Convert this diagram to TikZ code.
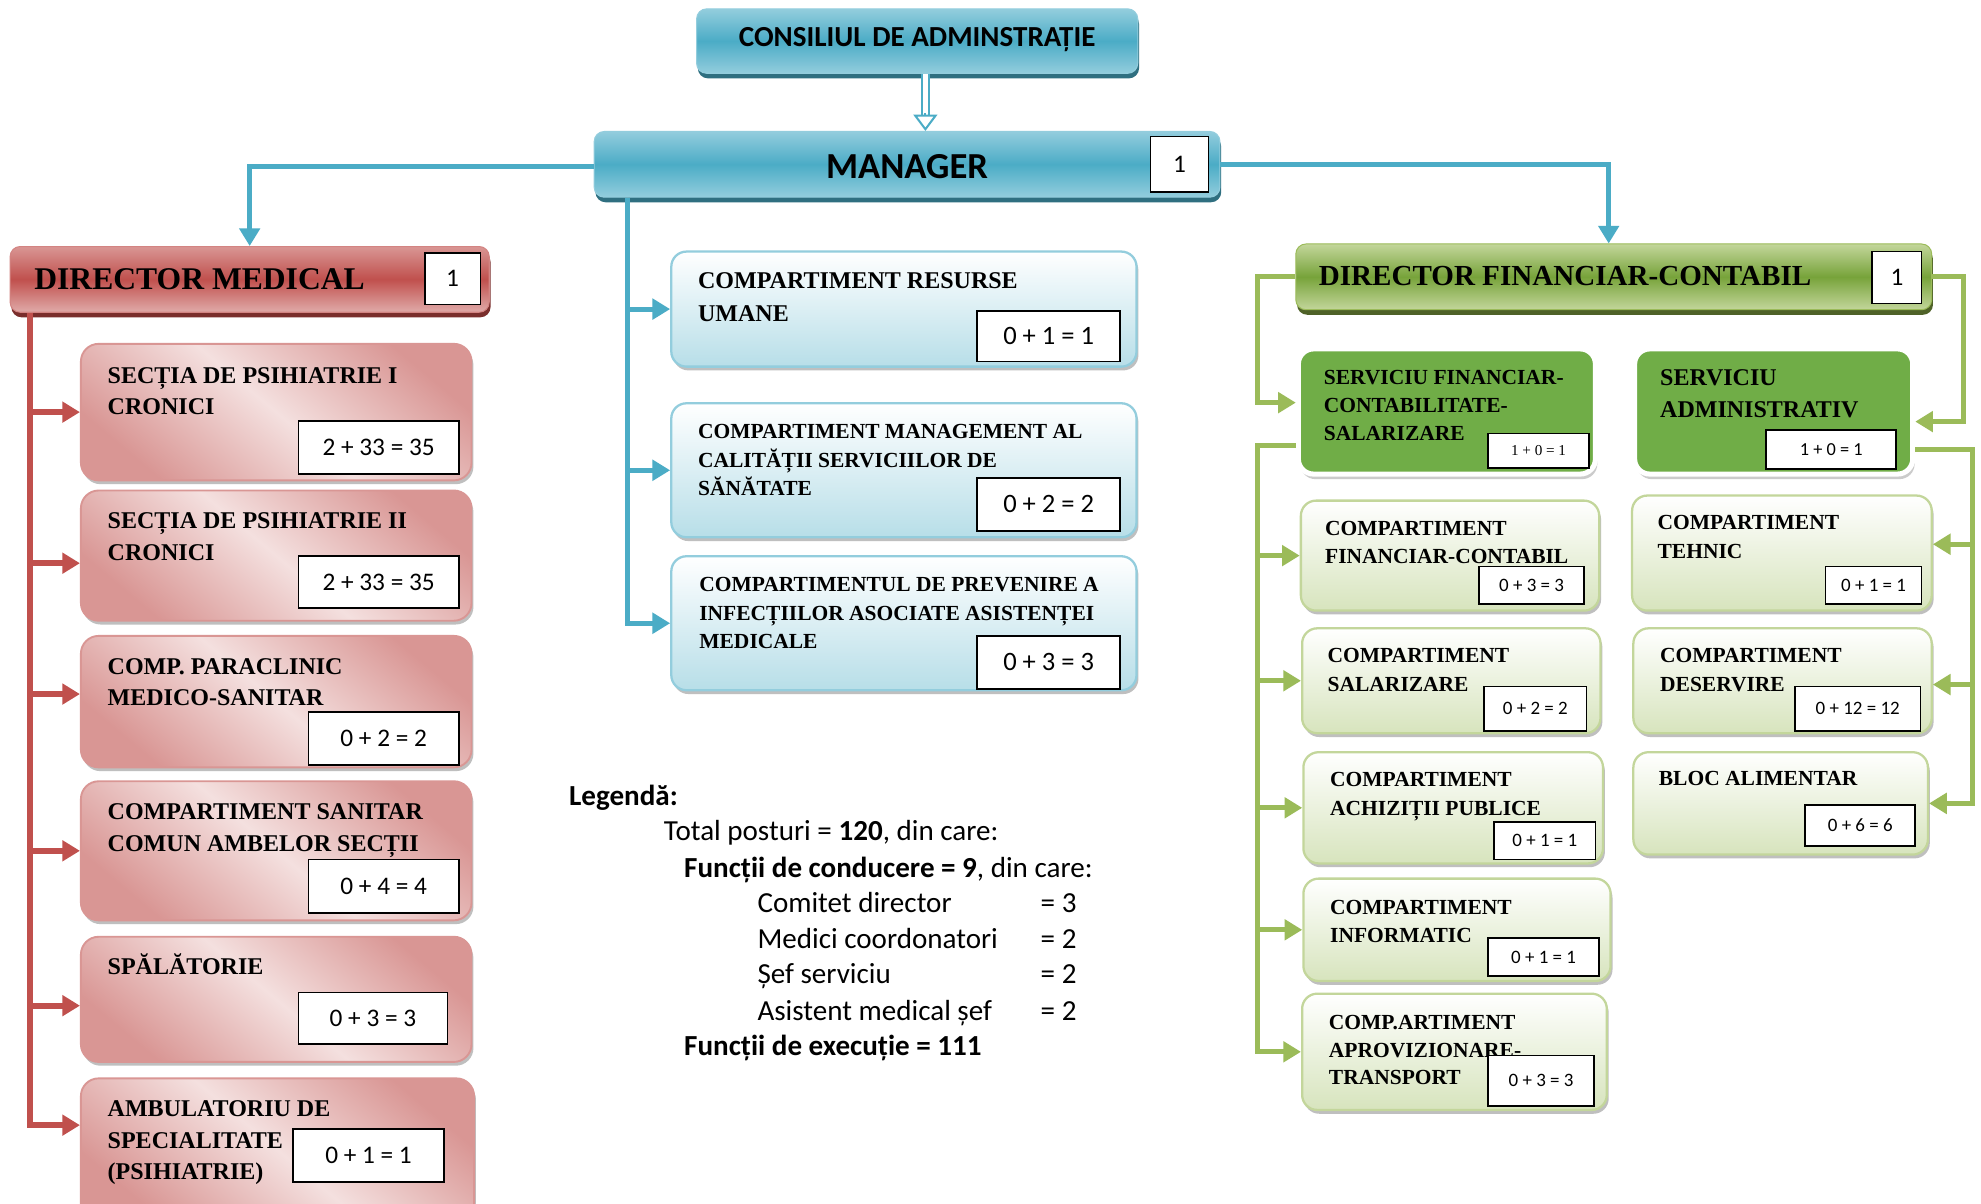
\documentclass[tikz,border=0pt]{standalone}
\usepackage{fontspec}
\setmainfont{Liberation Serif}
\newfontfamily\calib{Carlito}
\usetikzlibrary{arrows.meta,fit,shadows}
\definecolor{cBlue}{HTML}{4BACC6}
\definecolor{cBlueL}{HTML}{93CDDD}
\definecolor{cBlueD}{HTML}{2F6F80}
\definecolor{cBlueB}{HTML}{B7DEE8}
\definecolor{cRed}{HTML}{C0504D}
\definecolor{cRedL}{HTML}{D99694}
\definecolor{cRedXL}{HTML}{F4E0DF}
\definecolor{cRedD}{HTML}{7A2E2C}
\definecolor{cGrn}{HTML}{9BBB59}
\definecolor{cGrnL}{HTML}{C3D69B}
\definecolor{cGrnXL}{HTML}{D7E4BD}
\definecolor{cGrnD}{HTML}{4F6228}
\definecolor{cGrnM}{HTML}{77A33A}
\definecolor{cGrnBox}{HTML}{70AD47}
% number box: name, font style, corners, text
\newcommand\nbx[4]{\node[numbox, fit={#3}] (#1) {};
  \node[#2, inner sep=0pt] (#1-t) at (#1.center) {#4};}
\begin{document}
\begin{tikzpicture}[x=1pt,y=-1pt,
  sh/.style={drop shadow={shadow xshift=1.5pt, shadow yshift=-3pt, fill=black!45, opacity=0.55}},
  bluehdr/.style={rounded corners=8pt, inner sep=0pt, draw=cBlueL, line width=0.8pt,
     top color=cBlueL, bottom color=cBlueL, middle color=cBlue,
     drop shadow={shadow xshift=1pt, shadow yshift=-4pt, fill=cBlueD, opacity=1}},
  redhdr/.style={rounded corners=8pt, inner sep=0pt, draw=cRed!70!white, line width=0.8pt,
     top color=cRedL, bottom color=cRedL!80!white, middle color=cRed,
     drop shadow={shadow xshift=1pt, shadow yshift=-4pt, fill=cRedD, opacity=1}},
  grnhdr/.style={rounded corners=8pt, inner sep=0pt, draw=cGrn, line width=0.8pt,
     top color=cGrnL, bottom color=cGrnL, middle color=cGrnM,
     drop shadow={shadow xshift=1pt, shadow yshift=-4pt, fill=cGrnD, opacity=1}},
  bluebox/.style={rounded corners=12pt, inner sep=0pt, draw=cBlueL, line width=1.8pt,
     top color=white, bottom color=cBlueB, sh},
  redbox/.style={rounded corners=14pt, inner sep=0pt, draw=cRedL, line width=1.5pt,
     top color=cRedL, bottom color=cRedL, middle color=cRedXL, shading angle=-40, sh},
  grnbox/.style={rounded corners=12pt, inner sep=0pt, draw=cGrnL, line width=1.8pt,
     top color=white, bottom color=cGrnXL, sh},
  grndk/.style={rounded corners=12pt, inner sep=0pt, draw=white, line width=4pt,
     fill=cGrnBox, drop shadow={shadow xshift=1.5pt, shadow yshift=-4pt, fill=black!40, opacity=0.5}},
  numbox/.style={draw=black, line width=1.3pt, fill=white, inner sep=0pt},
  nf20/.style={font=\calib\fontsize{20}{24}\selectfont},
  nf21/.style={font=\calib\fontsize{21}{24}\selectfont},
  nf15/.style={font=\calib\fontsize{15}{18}\selectfont},
  nf14/.style={font=\calib\fontsize{14.5}{17}\selectfont},
  nfT/.style={font=\fontsize{12}{14}\selectfont},
  txt/.style={anchor=north west, inner sep=0pt, align=left},
  t19/.style={txt, font=\bfseries\fontsize{19}{25}\selectfont},
  t17/.style={txt, font=\bfseries\fontsize{17}{22.5}\selectfont},
  leg/.style={anchor=base west, inner sep=0pt, font=\calib\fontsize{23}{28}\selectfont},
  bline/.style={draw=cBlue, line width=4pt},
  barr/.style={bline, -{Triangle[length=14pt,width=16pt]}},
  rarr/.style={draw=cRed, line width=4.5pt, -{Triangle[length=14pt,width=16pt]}},
  garr/.style={draw=cGrn, line width=4pt, -{Triangle[length=14pt,width=16pt]}}
]
\fill[white] (0,0) rectangle (1567,951.6);
\useasboundingbox (0,0) rectangle (1567,951.6);

% ---- top ----
\node[bluehdr, fit={(551,7)(900,58)}] (cons) {};
\node[inner sep=0pt, font=\calib\bfseries\fontsize{23}{26}\selectfont] (cons-t) at ([yshift=1pt]cons.center) {CONSILIUL DE ADMINSTRAȚIE};
\node[bluehdr, fit={(470,104)(965,156)}] (mgr) {};
\node[inner sep=0pt, font=\calib\bfseries\fontsize{29}{32}\selectfont] (mgr-t) at ([yshift=-2pt]mgr.center) {MANAGER};
\nbx{mgr1}{nf20}{(910,108)(956,152)}{1}

\coordinate (dA) at (mgr.north -| 732,0);
\draw[cBlue, line width=1.8pt, double=white, double distance=3.5pt, shorten >=11pt] (cons.south -| 732,0) -- (dA);
\draw[cBlue, line width=1.6pt, -{Triangle[open, fill=white, length=13pt, width=19pt]}] ([yshift=14pt]dA) -- (dA);

% ---- directors ----
\node[redhdr, fit={(8,195)(387,247)}] (dm) {};
\node[anchor=west, inner sep=0pt, font=\bfseries\fontsize{25}{30}\selectfont] (dmt) at (27,221) {DIRECTOR MEDICAL};
\nbx{dm1}{nf20}{(336,200)(380,241)}{1}

\node[grnhdr, fit={(1025,193)(1528,245)}] (dfc) {};
\node[anchor=west, inner sep=0pt, font=\bfseries\fontsize{23}{28}\selectfont] (dfct) at (1043,218) {DIRECTOR FINANCIAR-CONTABIL};
\nbx{dfc1}{nf20}{(1481,199)(1520,240)}{1}

\draw[barr] (mgr.west |- 0,132) -| (dm.north);
\draw[barr] (mgr.east |- 0,130) -| ([xshift=-4pt]dfc.north);

% ---- blue column ----
\node[bluebox, fit={(531,199)(899,290)}] (b1) {};
\node[t19, font=\bfseries\fontsize{19}{26}\selectfont] (b1t) at (552,209) {\rule{0pt}{1em}COMPARTIMENT RESURSE\\UMANE};
\nbx{b1n}{nf21}{(773,246)(886,286)}{0 + 1 = 1}

\node[bluebox, fit={(531,319)(899,425)}] (b2) {};
\node[t17] (b2t) at (552,330) {\rule{0pt}{1em}COMPARTIMENT MANAGEMENT AL\\CALITĂȚII SERVICIILOR DE\\SĂNĂTATE};
\nbx{b2n}{nf21}{(773,378)(886,420)}{0 + 2 = 2}

\node[bluebox, fit={(531,440)(899,546)}] (b3) {};
\node[t17] (b3t) at (553,451) {\rule{0pt}{1em}COMPARTIMENTUL DE PREVENIRE A\\INFECȚIILOR ASOCIATE ASISTENȚEI\\MEDICALE};
\nbx{b3n}{nf21}{(773,503)(886,545)}{0 + 3 = 3}

\draw[barr] (mgr.south -| 496,0) |- (b3.west);
\draw[barr] (b1.west -| 496,0) -- (b1.west);
\draw[barr] (b2.west -| 496,0) -- (b2.west);

% ---- red column ----
\node[redbox, fit={(64,272)(373,380)}] (r1) {};
\node[t19] (r1t) at (85,284) {\rule{0pt}{1em}SECȚIA DE PSIHIATRIE I\\CRONICI};
\nbx{r1n}{nf20}{(236,333)(363,375)}{2 + 33 = 35}

\node[redbox, fit={(64,388)(373,491)}] (r2) {};
\node[t19] (r2t) at (85,399) {\rule{0pt}{1em}SECȚIA DE PSIHIATRIE II\\CRONICI};
\nbx{r2n}{nf20}{(236,440)(363,481)}{2 + 33 = 35}

\node[redbox, fit={(64,503)(373,607)}] (r3) {};
\node[t19] (r3t) at (85,514) {\rule{0pt}{1em}COMP. PARACLINIC\\MEDICO-SANITAR};
\nbx{r3n}{nf20}{(244,563)(363,605)}{0 + 2 = 2}

\node[redbox, fit={(64,618)(373,728)}] (r4) {};
\node[t19] (r4t) at (85,629) {\rule{0pt}{1em}COMPARTIMENT SANITAR\\COMUN AMBELOR SECȚII};
\nbx{r4n}{nf20}{(244,680)(363,722)}{0 + 4 = 4}

\node[redbox, fit={(64,741)(373,840)}] (r5) {};
\node[t19] (r5t) at (85,752) {\rule{0pt}{1em}SPĂLĂTORIE};
\nbx{r5n}{nf20}{(236,785)(354,826)}{0 + 3 = 3}

\node[redbox, fit={(64,853)(375,966)}] (r6) {};
\node[t19] (r6t) at (85,864) {\rule{0pt}{1em}AMBULATORIU DE\\SPECIALITATE\\(PSIHIATRIE)};
\nbx{r6n}{nf20}{(232,893)(351,935)}{0 + 1 = 1}

\draw[rarr] (dm.south -| 24,0) |- (r6.west |- 0,890);
\draw[rarr] (r1.west -| 24,0) -- (r1.west);
\draw[rarr] ([yshift=-6pt]r2.west -| 24,0) -- ([yshift=-6pt]r2.west);
\draw[rarr] ([yshift=6pt]r3.west -| 24,0) -- ([yshift=6pt]r3.west);
\draw[rarr] (r4.west -| 24,0) -- (r4.west);
\draw[rarr] ([yshift=-5pt]r5.west -| 24,0) -- ([yshift=-5pt]r5.west);

% ---- green columns ----
\node[grndk, fit={(1027,276)(1262,375)}] (sfcs) {};
\node[t17, font=\bfseries\fontsize{17}{22}\selectfont] (sfcst) at (1047,287) {\rule{0pt}{1em}SERVICIU FINANCIAR-\\CONTABILITATE-\\SALARIZARE};
\nbx{sfcsn}{nfT}{(1177,343)(1257,370)}{1 + 0 = 1}

\node[grndk, fit={(1293,276)(1513,375)}] (sa) {};
\node[t19] (sat) at (1313,286) {\rule{0pt}{1em}SERVICIU\\ADMINISTRATIV};
\nbx{san}{nf14}{(1397,340)(1500,371)}{1 + 0 = 1}

\node[grnbox, fit={(1029,396)(1265,483)}] (cfc) {};
\node[t17] (cfct) at (1048,406) {\rule{0pt}{1em}COMPARTIMENT\\FINANCIAR-CONTABIL};
\nbx{cfcn}{nf15}{(1170,448)(1253,478)}{0 + 3 = 3}

\node[grnbox, fit={(1291,392)(1528,483)}] (ct) {};
\node[t17] (ctt) at (1311,402) {\rule{0pt}{1em}COMPARTIMENT\\TEHNIC};
\nbx{ctn}{nf15}{(1444,448)(1520,478)}{0 + 1 = 1}

\node[grnbox, fit={(1030,497)(1266,580)}] (cs) {};
\node[t17] (cst) at (1050,507) {\rule{0pt}{1em}COMPARTIMENT\\SALARIZARE};
\nbx{csn}{nf15}{(1174,543)(1255,578)}{0 + 2 = 2}

\node[grnbox, fit={(1292,497)(1528,580)}] (cd) {};
\node[t17] (cdt) at (1313,507) {\rule{0pt}{1em}COMPARTIMENT\\DESERVIRE};
\nbx{cdn}{nf15}{(1420,543)(1519,578)}{0 + 12 = 12}

\node[grnbox, fit={(1031,595)(1268,683)}] (cap) {};
\node[t17] (capt) at (1052,605) {\rule{0pt}{1em}COMPARTIMENT\\ACHIZIȚII PUBLICE};
\nbx{capn}{nf15}{(1182,650)(1262,680)}{0 + 1 = 1}

\node[grnbox, fit={(1292,595)(1525,676)}] (ba) {};
\node[t17] (bat) at (1312,604) {\rule{0pt}{1em}BLOC ALIMENTAR};
\nbx{ban}{nf15}{(1428,637)(1515,669)}{0 + 6 = 6}

\node[grnbox, fit={(1031,695)(1274,776)}] (ci) {};
\node[t17] (cit) at (1052,706) {\rule{0pt}{1em}COMPARTIMENT\\INFORMATIC};
\nbx{cin}{nf15}{(1177,742)(1265,772)}{0 + 1 = 1}

\node[grnbox, fit={(1030,786)(1271,878)}] (cat) {};
\node[t17, font=\bfseries\fontsize{17}{22}\selectfont] (catt) at (1051,797) {\rule{0pt}{1em}COMP.ARTIMENT\\APROVIZIONARE-\\TRANSPORT};
\nbx{catn}{nf15}{(1177,835)(1261,875)}{0 + 3 = 3}

\draw[garr] (dfc.west) -| (995,300) |- ([yshift=7pt]sfcs.west);
\draw[garr] (dfc.east) -| (1553,300) |- ([yshift=-8pt]sa.east);
\draw[garr] ([yshift=-27pt]sfcs.west) -| (995,600) |- (cat.west);
\draw[garr] (cfc.west -| 995,0) -- (cfc.west);
\draw[garr] (cs.west -| 995,0) -- (cs.west);
\draw[garr] (cap.west -| 995,0) -- (cap.west);
\draw[garr] (ci.west -| 995,0) -- (ci.west);
\draw[garr] ([yshift=-30pt]sa.east) -| (1560,500) |- (ba.east);
\draw[garr] ([yshift=7pt]ct.east -| 1560,0) -- ([yshift=7pt]ct.east);
\draw[garr] ([yshift=-3pt]cd.east -| 1560,0) -- ([yshift=-3pt]cd.east);

% ---- legend ----
\node[leg] (l0) at (450,637) {\bfseries Legendă:};
\node[leg] (l1) at (525,665) {Total posturi = \textbf{120}, din care:};
\node[leg] (l2) at (541,694) {\textbf{Funcții de conducere = 9}, din care:};
\node[leg] (l3) at (599,722) {Comitet director};
\node[leg] (l3v) at (823,722) {= 3};
\node[leg] (l4) at (599,750) {Medici coordonatori};
\node[leg] (l4v) at (823,750) {= 2};
\node[leg] (l5) at (599,778) {Șef serviciu};
\node[leg] (l5v) at (823,778) {= 2};
\node[leg] (l6) at (599,807) {Asistent medical șef};
\node[leg] (l6v) at (823,807) {= 2};
\node[leg] (l7) at (541,835) {\bfseries Funcții de execuție = 111};
\end{tikzpicture}
\end{document}
